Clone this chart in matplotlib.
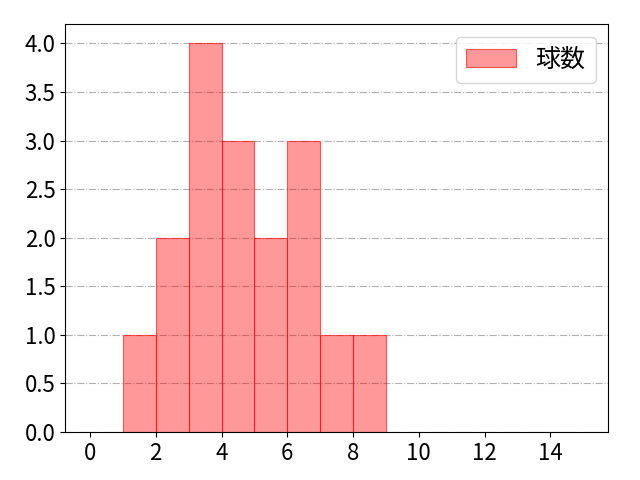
import matplotlib
matplotlib.use("Agg")
import matplotlib.pyplot as plt
import numpy as np

plt.rcParams['font.family'] = ['Noto Sans CJK JP', 'DejaVu Sans']

# pitch-count bins (left edges) and frequencies
bin_left = np.array([1, 2, 3, 4, 5, 6, 7, 8])
counts = np.array([1, 2, 4, 3, 2, 3, 1, 1])
label = "球数"

fig = plt.figure(figsize=(6.4, 4.8), dpi=100)
ax = fig.add_axes([0.102, 0.1, 0.848, 0.85])

ax.bar(bin_left, counts, width=1, align='edge', color=(1, 0, 0, 0.4),
       edgecolor=(1, 0, 0, 0.6), linewidth=0.8, label=label)

ax.set_xlim(-0.75, 15.75)
ax.set_ylim(0, 4.2)
ax.set_xticks(np.arange(0, 15, 2))
ax.set_yticks(np.arange(0, 4.01, 0.5))
ax.tick_params(labelsize=16)
ax.grid(axis='y', linestyle='-.', color='#b0b0b0', linewidth=0.8)
ax.set_axisbelow(True)
ax.legend(loc='upper right', fontsize=18)

fig.savefig("out.png")
